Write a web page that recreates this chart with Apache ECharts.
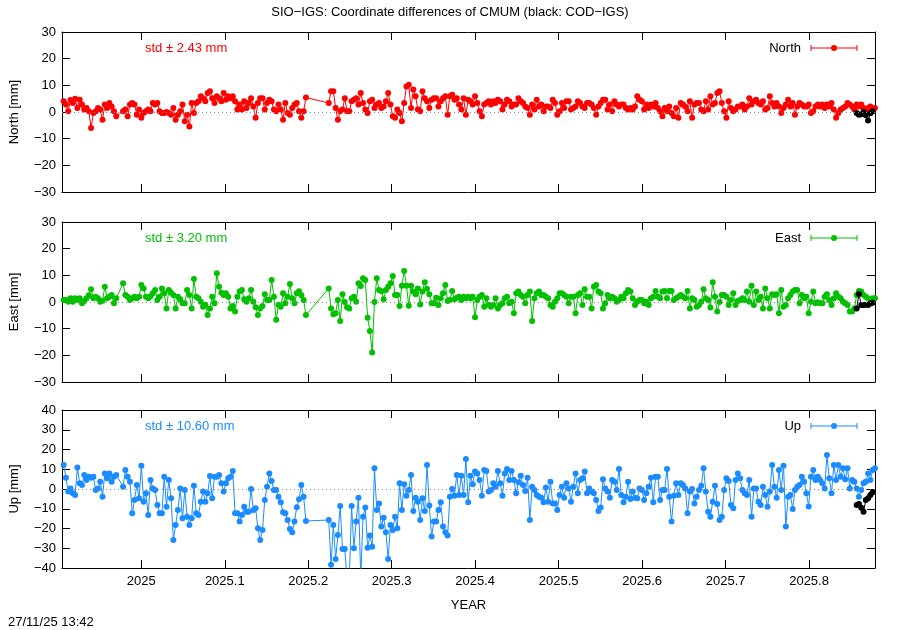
<!DOCTYPE html>
<html>
<head>
<meta charset="utf-8">
<title>SIO-IGS CMUM</title>
<script src="https://cdn.jsdelivr.net/npm/echarts@6.0.0/dist/echarts.min.js"></script>
<style>
  html, body { margin: 0; padding: 0; background: #fff; }
  #chart { width: 900px; height: 630px; }
</style>
</head>
<body>
<div id="chart"></div>
<script>
// first daily solution (decimal year), one value per day, null = no solution
const firstEpoch = 2024.907
const xTicks = [2025, 2025.1, 2025.2, 2025.3, 2025.4, 2025.5, 2025.6, 2025.7, 2025.8]

const northVals = [
  4, 2.8, 0.3, 4.5, 3.4, 5, 1.5, 4.6, 2.8, 0.9,
  1.5, 0.3, -6, -0.4, 0.3, 1.5, 0.9, -2.9, 2.8, 1.5,
  3.4, 2.1, 0.3, -1.6, null, null, 0.3, 0.9, -1.6, 2.8,
  3.4, 2.8, -1, 0.9, -2.2, -0.4, 0.3, 0.9, 0.3, 3.4,
  2.8, 3.4, 0.3, -0.4, -0.4, 0, -0.4, -1, 1.5, -2.9,
  -1, 0.3, 2.8, -3.5, -1, -5.4, 3.4, -0.4, 3.4, 4,
  5.9, 5.2, 4, 7.1, 7.8, 5.2, 3.4, 5.9, 5.2, 4,
  7.1, 4.6, 5.9, 5.2, 5.9, 4, 0.9, 2.8, 0.9, 4,
  1.5, 3.4, 5.2, 2.1, -2.2, 3.4, 5.2, 5.2, 0.9, 3.4,
  4.6, 4, 0.9, 0.3, 2.8, 0.9, -2.9, 3.4, -0.4, -1,
  1.5, 2.8, 3.4, 0.3, -2.2, 0.3, 5.4, null, null, null,
  null, null, null, null, null, null, 3.4, 7.8, 7.8, 1.5,
  -2.9, 0.3, 0.9, 5.2, 0.3, 0.3, 4, 4.6, 5.2, 2.8,
  7.1, 3.4, 0.9, -0.4, 4, 4.6, 1.5, 2.8, 3.4, 1.5,
  2.1, 4, 7.1, 2.8, -1.6, -2.2, 0.9, -0.4, -3.5, 3.4,
  9.6, 10.2, 1.5, 8.4, 5.9, 0.9, 0.3, 7.8, 5.2, 4,
  1.5, 4.6, 5.2, 5.2, 2.1, 4, 5.2, 5.9, -1, 5.9,
  6.5, 4.6, 5.2, 2.8, 0.9, 5.2, -1, 4.6, 4, 2.8,
  5.9, 3.4, 0.3, -1.6, 2.8, 3.4, 4, 2.8, 4, 3.4,
  4.6, 4, 0.9, 2.8, 4.6, 4, 2.1, 2.8, 2.8, 5.2,
  4, 3.4, 2.1, 1.5, -1, 2.8, 0.9, 4.6, 2.1, 2.8,
  0.3, 2.1, 2.1, 1.5, 4.6, 3.4, -1, 0.3, 3.4, 1.5,
  4, 4, 0.9, 1.5, 2.1, 4, 3.4, 2.1, 1.5, 3.4,
  3.4, 2.8, 1.5, -1, 2.1, 3.4, 4.6, 4.6, 0.9, 2.8,
  0.3, 4, 2.8, 2.1, 2.8, 2.8, 1.5, 0.9, 1.5, 0.9,
  2.1, 5.9, 4.6, 4, 0.9, 2.8, 1.5, 2.8, 2.1, 3.4,
  1.5, 0.3, -1.6, 1.5, 0.3, 2.1, -0.4, -1.6, 1.5, -2.2,
  3.4, 2.8, 2.1, 0.3, 4, -2.2, 2.8, 3.4, 3.4, 0.9,
  0.3, 4, 0.9, 5.9, 2.8, 3.4, 7.1, 7.8, 3.4, 0.3,
  -2.2, 4, 1.5, 0.3, 0.9, 2.1, 2.1, 2.8, 0.9, 2.1,
  5.2, 2.8, 4, 4.6, 3.4, 2.8, 4, 0.9, 1.5, 5.9,
  3.4, 2.1, 3.4, 2.1, -0.4, 1.5, 2.8, 4.6, 2.1, 3.4,
  -1, 2.1, 3.4, 2.8, 2.1, 2.1, 2.8, -0.4, 0.3, 2.1,
  2.8, 2.1, 2.8, 1.5, 2.8, 2.1, 3.4, 0.9, -2.2, -0.4,
  0.9, 1.5, 2.1, 3.4, 2.8, 2.1, 0.9, 2.8, 2.1, 2.8,
  1.5, 0.9, 1.5, 2.1, 0.3, 1.5
]

const eastVals = [
  0.75, 0.75, 0.1, 1.4, 0.1, 1.4, 0.75, 1.4, -0.5, 0.4,
  1.4, 2.5, 4.8, 1.4, 2, 1.4, 0.1, 0.5, 5.75, 1.4,
  2, 2.6, -0.5, 1.4, null, null, 7, 2.6, 2, 0.75,
  1.4, 2, 1.4, 2, 6.4, 5.1, 2, 1.4, 2.2, 3.25,
  4.5, 0.75, 2, 5.1, 3.25, -2.4, 4.5, 3.5, 2.6, -2.4,
  2, 1, -0.5, -0.5, 4.5, 2.6, -2.4, 8.6, 2, 1.4,
  0.1, -1.75, -1, -4.9, -2.4, 2, -0.5, 10.75, 5.75, 3.5,
  2.6, 3.25, 2, -2.4, -1.5, -3.6, 2, 3.9, 4.5, 1,
  0.1, 1.4, 4.5, 0.1, -2, -4.9, -2.4, -1.5, 2.9, 0.75,
  0.75, 8.25, 2, -6.7, -1, -1.75, 3.25, -0.5, 2, 6.75,
  1.4, -0.5, 3.25, 4, 2.5, 0.75, -4.9, null, null, null,
  null, null, null, null, null, null, 5.1, -2.4, -4.6, -4.25,
  0.75, -7.1, 2.9, 0, -2, -2.4, 1.4, 2, 0.1, 7,
  6, 8.9, 8.25, -5.9, -10.9, -18.9, 0, 8.9, 4.5, 4,
  1, 4.5, 5.75, 7, 9.75, 2.6, 2.6, -1.5, 6.1, 11.6,
  6.1, -1.4, 6.1, 3.9, 2.9, 5.1, -0.9, 3.9, 7.4, 5,
  2.9, -0.5, -0.5, 1.6, -1.1, 1.4, 3.25, 6.4, 0.4, 0.75,
  4.1, 1, 1.6, 2, 0.75, 2, 1.4, 2, 1.4, 2,
  -5.7, 0.75, 2, 2.6, -1.75, 1.4, -1.1, -1.75, -1.1, 1.4,
  -2.4, -1.1, -0.5, 1.4, 2, -0.5, 0.1, -4.25, 3.25, 3.9,
  2.6, 2, -0.5, 2.6, 3.9, -7.1, 1.4, 3.25, 3.9, 2.6,
  2.6, 2, 1.4, -1.1, -1.75, 0.1, 1.4, 3.25, 3.25, 2.6,
  2, -0.5, 2, 2, -4.25, 2.6, 3.25, -1.1, 4.8, 2,
  2, -2.4, 5.75, 6.4, 3.9, 3.25, -2.4, -0.5, 2.6, 1.4,
  2, 1.4, 0.1, 0.75, 2, 1.4, 3.25, 4.5, 3.9, 1.4,
  -1.1, 0.1, 0.75, 0.75, -0.5, 0.1, -1.1, 1.4, 2, 4.1,
  2, 1.4, 3.9, 4.1, 1.4, 4.1, 4.1, 0.75, 1.4, 2,
  2.6, 2, 1.4, 4.1, -2.4, 1.4, 0.75, -1.75, -1.1, 0.1,
  4.8, 1.4, 0.75, -2.1, 7.4, 2, -3.6, 0, 2.6, 2.6,
  2, -1.1, 0.75, 3.25, -1.1, 0.4, 0.75, 1.4, 0.75, 3.9,
  0.1, 6.1, -1.1, 3.9, 0.75, 2, -2.4, 5.1, 1.4, -2.4,
  2.9, 2.6, 2.9, -4.25, 4.5, -1.75, -1.1, 1.4, 2.6, 3.9,
  4.5, 4.5, -0.5, 2.6, 1.4, 2, -4.25, 0.1, 3.9, -0.5,
  -0.1, -0.5, -0.5, 2, 2.9, 0.75, -1.1, 1.4, 3.25, 2,
  1.4, 0.1, -0.5, -1.1, -3.6, -3.6, -2.4, 2.6, 4.1, 3.9,
  2.6, 2, 1.4, 0.75, 1.4, 1.4
]

const upVals = [
  12.1, 5.7, -1.3, 0.3, -2.2, -3, 10.9, 2.9, 2, 7.1,
  4.6, 6.2, 5.7, 6.2, -0.5, 0.3, 3.7, -3.9, 7.9, 5.4,
  7.9, 3.7, 6.2, 7.1, null, null, 1.2, 9.6, 6.2, 3.7,
  -12.3, -5.6, 2, -4.7, 11.8, -6.4, -2.2, -13.2, 4.6, 0.3,
  -0.5, -8.1, -12.3, -12.3, 6.2, -9, 4.6, -4.7, -25.8, -18.2,
  -10.6, 0.3, -14.8, -0.5, -14, -18.2, -14.8, 1.6, -12.3, -13.2,
  -6.4, -1.3, -6.4, -2.2, 6.6, -4.7, 6.2, 6.2, 7.1, 2.9,
  -1.3, 2.9, 5.4, 6.2, 9.1, -12.3, -12.3, -16.5, -13.2, -9,
  -11.5, -11.5, 0, -10.6, -9.8, -19.9, -25.8, -20.7, -5.6, 1.2,
  7.9, 4, -0.5, -0.5, -3.9, -6.7, -11.8, -12.3, -15.7, -20.2,
  -21.9, -16.5, -9.2, -5.2, 2, -3.9, -16.2, null, null, null,
  null, null, null, null, null, null, -15.7, -38.4, -18.2, -35.4,
  -23.3, -8.6, -30.4, -30.4, -45, -45, -8.6, -30, -16.5, -4.4,
  -45, -14, -9.4, -29.7, -23.6, -29.2, 10.5, -10.6, -7.3, -19,
  -14.5, -21.9, -35.4, -18.2, -20.7, -14, -19.9, 2.9, -10.6, 2.4,
  -3.4, -0.5, 7.1, -11.1, -4.4, -6.4, -15.7, -4.7, -11.1, 12.1,
  -8.4, -24.1, -16.5, -16.5, -10.6, -6.7, -19, -21.9, -23.6, -3.9,
  0, -3.4, 7.1, -3, 6.7, -3, 15.2, -6.7, 6.7, 2.4,
  8.8, 7.9, 4.6, -3.4, 9.6, 9.1, -1.3, -0.5, 2.9, 1.2,
  9.1, 2.9, -3.4, 7.9, 10.1, 4.6, 9.1, 4.6, -2.2, 3.4,
  6.7, 2, -1, 5.7, -15.7, 1.2, -0.5, -3, -3.9, -4.4,
  -6.7, 0.7, -6.4, 3.7, -7.3, -7.3, -10.6, -3, 1.2, -4.4,
  2.9, 0.3, -6.4, 1.2, 7.9, -2.2, 4.6, 5.4, 8.8, -2.2,
  0.3, -1.3, -2.2, -5.6, -11.1, -9.4, 5, 0.3, -1.3, -4.4,
  4.6, 3.7, -0.5, 10.1, -3, -6.7, -3.9, 3.7, -5.1, -1.3,
  -4.4, -4.7, 0.3, -0.5, -5.6, -2.2, 1.2, 5.7, -6.7, 6.2,
  6.2, -5.6, -0.5, -0.5, 10.1, -3.9, -16.5, -3.4, 2.9, -3,
  2.9, 2, 0.3, -12.3, -1.3, 0, -7.3, -3.9, -0.5, 1.7,
  10.5, -1.3, -11.5, -14, -6.4, 1.7, -7.6, -15.7, -14, -0.5,
  5.4, 4, -8.1, -9.8, 4.6, 7.9, 5.4, -0.5, -2.2, -3,
  4.6, -14, 0.3, 0.3, -6.4, -8.1, 1.2, -3, -9, -1.3,
  12.1, 1.2, -4.4, 9.6, -0.5, 11.8, -19, -3.9, -3, -10.1,
  -0.5, 1.2, 2, 6.2, 3.7, -2.2, -8.8, 6.2, 9.6, 4.6,
  6.2, 4.6, 2.9, 0.3, 17.2, 5.4, -2.2, 12.1, 4.6, 12.1,
  6.2, 10.5, 5, 10.5, 0.3, 4.6, 3.7, 0.3, -3.9, -0.5,
  2.9, 3.7, 7.9, 4.6, 9.6, 10.5
]

// COD-IGS comparison (black), day numbers counted from firstEpoch
const codDays = [347, 348, 349, 350, 351, 352, 353, 354]
const codNorth = [-0.4, -1, -0.8, 0, -1.2, -3.2, -0.5, 0.3]
const codEast = [-2.4, 3, -1.1, -1.1, -1, -1.1, -0.6, -0.3]
const codUp = [-8.1, -7.6, -9.5, -11.5, -5.6, -4.7, -3, -1.7]

const panelNames = ['North', 'East', 'Up']
const panelStd = ['std ± 2.43 mm', 'std ± 3.20 mm', 'std ± 10.60 mm']
const panelRange = [[-30, 30], [-30, 30], [-40, 40]]
const panelColors = ['#ff0000', '#00c000', '#1a8cff']

const FONT = 'Liberation Sans'
const xMin = 2024.905
const xMax = 2025.879
const grids = [
  { left: 62, top: 32, width: 813, height: 160 },
  { left: 62, top: 222, width: 813, height: 160 },
  { left: 62, top: 410, width: 813, height: 158 }
]

const toEpoch = day => firstEpoch + day / 365.25
const toPairs = vals => vals
  .map((v, i) => (v === null ? null : [toEpoch(i), v]))
  .filter(p => p !== null)
const codPairs = vals => vals.map((v, i) => [toEpoch(codDays[i]), v])

const minus = v => String(v).replace('-', '\u2212')
const yearLabel = v => {
  const r = Math.round(v * 10) / 10
  return Number.isInteger(r) ? String(r) : r.toFixed(1)
}

const tickStyle = { inside: true, length: 8, lineStyle: { color: '#000', width: 1 } }
const lineStyle = { lineStyle: { color: '#000', width: 1 } }

const xAxes = []
const yAxes = []
panelNames.forEach((name, i) => {
  const last = i === panelNames.length - 1
  xAxes.push({
    type: 'value', gridIndex: i, min: xMin, max: xMax, position: 'bottom',
    axisLine: { show: true, onZero: false, ...lineStyle },
    axisTick: { ...tickStyle, customValues: xTicks },
    axisLabel: {
      show: last, customValues: xTicks, formatter: yearLabel, margin: 7,
      color: '#000', fontFamily: FONT, fontSize: 13
    },
    splitLine: { show: false },
    name: last ? 'YEAR' : '', nameLocation: 'middle', nameGap: 31,
    nameTextStyle: { color: '#000', fontFamily: FONT, fontSize: 13 }
  })
  xAxes.push({
    type: 'value', gridIndex: i, min: xMin, max: xMax, position: 'top',
    axisLine: { show: true, onZero: false, ...lineStyle },
    axisTick: { ...tickStyle, customValues: xTicks },
    axisLabel: { show: false },
    splitLine: { show: false }
  })
  yAxes.push({
    type: 'value', gridIndex: i, min: panelRange[i][0], max: panelRange[i][1], interval: 10,
    position: 'left',
    axisLine: { show: true, onZero: false, ...lineStyle },
    axisTick: tickStyle,
    axisLabel: { formatter: minus, margin: 6, color: '#000', fontFamily: FONT, fontSize: 13 },
    splitLine: { show: false },
    name: name + ' [mm]', nameLocation: 'middle', nameGap: 41,
    nameTextStyle: { color: '#000', fontFamily: FONT, fontSize: 13 }
  })
  yAxes.push({
    type: 'value', gridIndex: i, min: panelRange[i][0], max: panelRange[i][1], interval: 10,
    position: 'right',
    axisLine: { show: true, onZero: false, ...lineStyle },
    axisTick: tickStyle,
    axisLabel: { show: false },
    splitLine: { show: false }
  })
})

const mainVals = [northVals, eastVals, upVals]
const codVals = [codNorth, codEast, codUp]
const series = []
panelNames.forEach((name, i) => {
  series.push({
    name: name, type: 'line', xAxisIndex: i * 2, yAxisIndex: i * 2,
    data: toPairs(mainVals[i]),
    symbol: 'circle', symbolSize: 6, showSymbol: true, showAllSymbol: true,
    itemStyle: { color: panelColors[i] },
    lineStyle: { color: panelColors[i], width: 1 },
    clip: true, z: 3,
    markLine: {
      silent: true, symbol: 'none', animation: false,
      label: { show: false },
      lineStyle: { color: '#888', width: 1, type: [1, 3] },
      data: [{ yAxis: 0 }]
    }
  })
  series.push({
    name: 'COD ' + name, type: 'line', xAxisIndex: i * 2, yAxisIndex: i * 2,
    data: codPairs(codVals[i]),
    symbol: 'circle', symbolSize: 6, showSymbol: true,
    itemStyle: { color: '#000' },
    lineStyle: { color: '#000', width: 1 },
    clip: true, z: 4
  })
})

// std text and gnuplot-like key entries (label + line with error-bar caps)
const graphics = []
panelNames.forEach((name, i) => {
  const y = grids[i].top + 16
  const c = panelColors[i]
  graphics.push({
    type: 'text', left: 145, top: y - 6,
    style: { text: panelStd[i], fill: c, font: '13px ' + FONT }
  })
  graphics.push({
    type: 'text', x: 801, y: y,
    style: { text: name, fill: '#000', font: '13px ' + FONT, align: 'right', verticalAlign: 'middle' }
  })
  graphics.push({ type: 'line', shape: { x1: 811, y1: y, x2: 857, y2: y }, style: { stroke: c, lineWidth: 1 } })
  graphics.push({ type: 'line', shape: { x1: 811, y1: y - 3, x2: 811, y2: y + 3 }, style: { stroke: c, lineWidth: 1 } })
  graphics.push({ type: 'line', shape: { x1: 857, y1: y - 3, x2: 857, y2: y + 3 }, style: { stroke: c, lineWidth: 1 } })
  graphics.push({ type: 'circle', shape: { cx: 834, cy: y, r: 3 }, style: { fill: c } })
})
graphics.push({
  type: 'text', left: 8, top: 616,
  style: { text: '27/11/25 13:42', fill: '#000', font: '13px ' + FONT }
})

const chart = echarts.init(document.getElementById('chart'), null, { renderer: 'canvas' })
chart.setOption({
  animation: false,
  backgroundColor: '#fff',
  title: {
    text: 'SIO\u2212IGS: Coordinate differences of CMUM (black: COD\u2212IGS)',
    left: 'center', top: 1,
    textStyle: { color: '#000', fontFamily: FONT, fontSize: 13, fontWeight: 'normal' }
  },
  grid: grids,
  xAxis: xAxes,
  yAxis: yAxes,
  series: series,
  graphic: graphics
})
</script>
</body>
</html>
